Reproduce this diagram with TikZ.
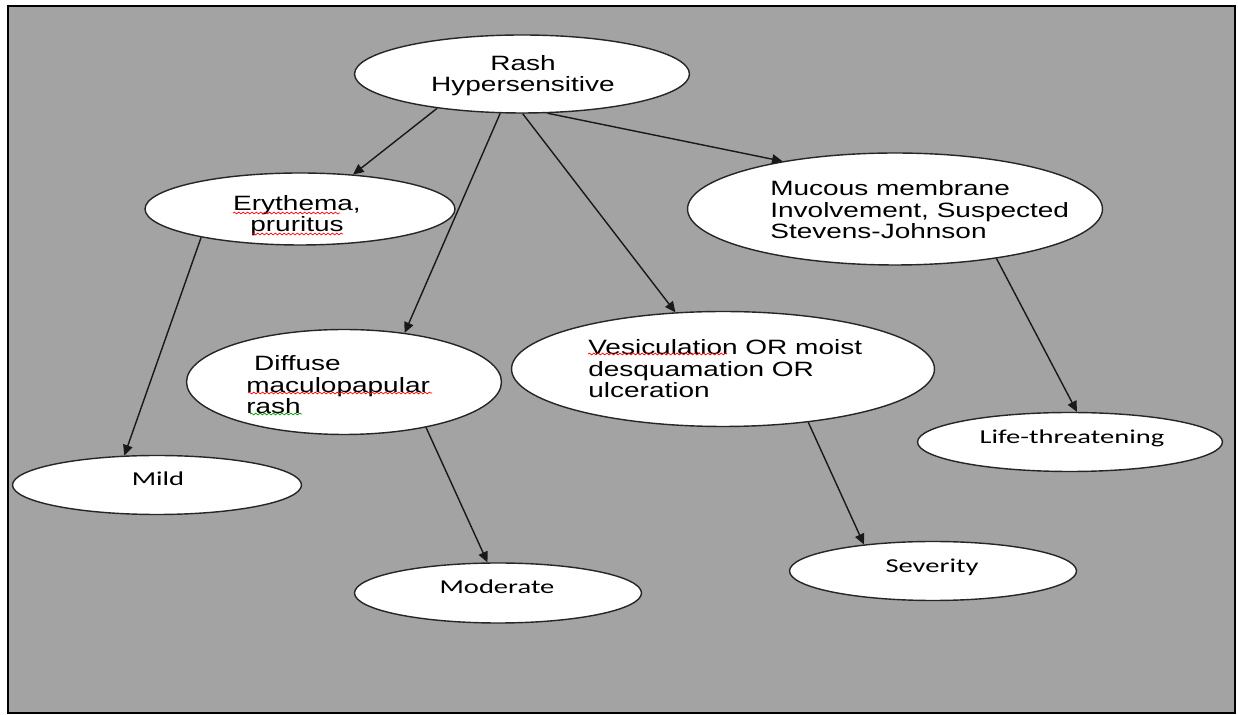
\documentclass[tikz,border=0pt]{standalone}
\usepackage{fontspec}
\newfontfamily\arialfont[FakeStretch=1.35]{Liberation Sans}
\newfontfamily\califont[FakeStretch=1.45]{Carlito}
\usetikzlibrary{shapes.geometric,arrows.meta,decorations.pathmorphing}
\definecolor{pagegray}{HTML}{A3A3A3}

\begin{document}
\begin{tikzpicture}[x=0.02cm, y=-0.02cm,
	bubble/.style={ellipse, draw=black!85, line width=0.8pt, fill=white, inner sep=0pt},
	arialtxt/.style={font=\arialfont\fontsize{11.8}{12.4}\selectfont, inner sep=0pt},
	calitxt/.style={font=\califont\fontsize{11.2}{13}\selectfont, inner sep=0pt},
	link/.style={draw=black!90, line width=0.8pt, -{Triangle[length=6pt,width=5.5pt]}},
	spell/.style={line width=0.4pt, decorate, decoration={snake, amplitude=0.5pt, segment length=2.5pt}}]
	\useasboundingbox (0,0) rectangle (1238,715);
	\fill[white] (0,0) rectangle (1238,715);
	\draw[fill=pagegray, line width=1.1pt] (8,6) rectangle (1235,713);

			% ellipses
			\node[bubble, minimum width=6.7cm, minimum height=1.56cm] (rash) at(522,74){};
			\node[bubble, minimum width=6.2cm, minimum height=1.44cm] (ery) at(300,209){};
			\node[bubble, minimum width=8.3cm, minimum height=2.24cm] (muc) at(895,209){};
			\node[bubble, minimum width=6.3cm, minimum height=2.1cm] (dif) at(344,382){};
			\node[bubble, minimum width=8.46cm, minimum height=2.3cm] (ves) at(723,369){};
			\node[bubble, minimum width=6.1cm, minimum height=1.18cm] (life) at(1070,442){};
			\node[bubble, minimum width=5.74cm, minimum height=1.18cm] (sev) at(933,571){};
			\node[bubble, minimum width=5.78cm, minimum height=1.18cm] (mild) at(157,485){};
			\node[bubble, minimum width=5.74cm, minimum height=1.2cm] (mod) at(498,593){};

			% texts
			\node[arialtxt, align=center, anchor=base] (rash-t) at(523,92){Rash\\Hypersensitive};
			\node[arialtxt, align=center, anchor=base] (ery-t) at(297,232){Erythema,\\pruritus};
			\node[arialtxt, align=left, anchor=base west] (muc-t) at(770,239){Mucous membrane\\Involvement, Suspected\\Stevens-Johnson};
			\node[arialtxt, align=left, anchor=base west] (dif-t) at(246,414){~Diffuse\\maculopapular\\rash};
			\node[arialtxt, align=left, anchor=base west] (ves-t) at(588,398){Vesiculation OR moist\\desquamation OR\\ulceration};
			\node[calitxt, anchor=base] (life-t) at(1072,444){Life-threatening};
			\node[calitxt, anchor=base] (sev-t) at(932,573){Severity};
			\node[calitxt, anchor=base] (mild-t) at(158,486){Mild};
			\node[calitxt, anchor=base] (mod-t) at(497,594){Moderate};

			% arrows
			\draw[link] (rash.202) to (ery.33);
			\draw[link] (rash.241) to (dif.39);
			\draw[link] (rash.271) to (ves.130);
			\draw[link] (rash.303) to (muc.157);
			\draw[link] (ery.196) to (mild.138);
			\draw[link] (dif.331) to (mod.109);
			\draw[link] (ves.328) to (sev.159);
			\draw[link] (muc.334) to (life.77);

			% spelling marks
			\draw[spell, red] (233,213) to (340,213);
			\draw[spell, red] (252,234) to (343,234);
			\draw[spell, red] (248,393) to (432,393);
			\draw[spell, green!60!black] (250,414) to (302,414);
			\draw[spell, red] (588,354) to (727,354);
\end{tikzpicture}
\end{document}
